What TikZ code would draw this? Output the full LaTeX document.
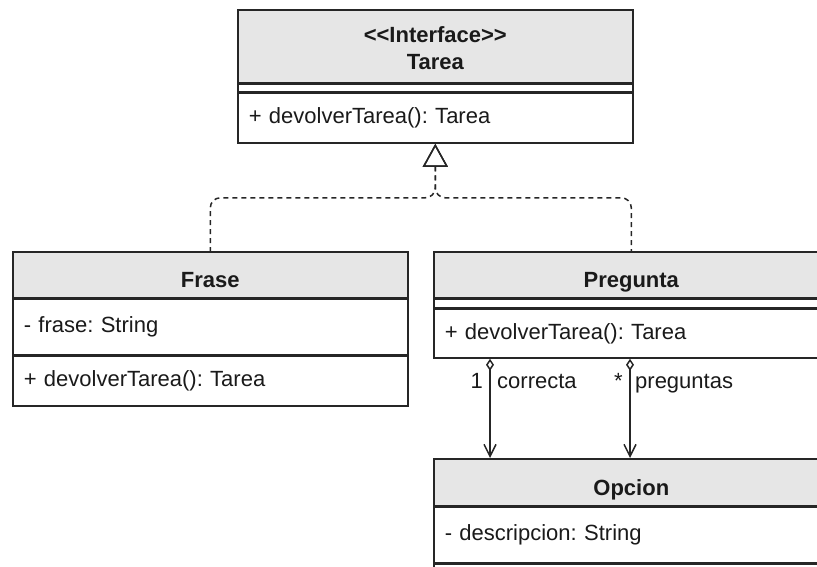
\documentclass[tikz,border=0pt]{standalone}
\usepackage{fontspec}
\newfontfamily\umlfont{Liberation Sans}
\newcommand{\umltype}{\umlfont\fontsize{22}{27}\selectfont\frenchspacing}
\usetikzlibrary{arrows.meta}
\definecolor{umlline}{HTML}{262626}
\definecolor{umlhead}{HTML}{E6E6E6}
\definecolor{umltext}{HTML}{1A1A1A}
\begin{document}
\begin{tikzpicture}[x=1pt,y=-1pt,
  headbox/.style={draw=umlline, line width=1.6pt, fill=umlhead, anchor=north west,
    inner xsep=11pt, inner ysep=0pt, text width=373pt, align=center,
    font=\umltype\bfseries, text=umltext, minimum height=#1,
    text height=26pt, text depth=0pt},
  partbox/.style={draw=umlline, line width=1.6pt, fill=white, anchor=north west,
    inner xsep=11pt, inner ysep=0pt, text width=373pt, align=left,
    font=\umltype, text=umltext, minimum height=#1},
  sepbox/.style={draw=umlline, line width=1.6pt, fill=white, anchor=north west,
    inner sep=0pt, minimum width=395pt, minimum height=#1},
  lbl/.style={font=\umltype, text=umltext, inner sep=0pt},
  realize/.style={draw=umlline, line width=1.5pt, dash pattern=on 5pt off 4pt,
    rounded corners=10pt, {Triangle[open, length=23pt, width=25pt, line width=1.5pt]}-},
  assoc/.style={draw=umlline, line width=1.5pt,
    {Diamond[open, length=12pt, width=8pt]}-{Straight Barb[length=12pt, width=12pt]}}]
\useasboundingbox (0,0) rectangle (817,567);
\clip (0,0) rectangle (817,567);

% interface Tarea
\node[headbox=73pt, text height=20pt, text depth=27pt] (tareaH) at (237,9) {<<Interface>>\\Tarea};
\node[sepbox=7pt] (tareaS) at (tareaH.south west) {};
\node[partbox=50pt] (tareaM) at (tareaS.south west) {+ devolverTarea(): Tarea};

% class Frase
\node[headbox=46pt] (fraseH) at (12,251) {Frase};
\node[partbox=55pt] (fraseA) at (fraseH.south west) {- frase: String};
\node[partbox=50pt] (fraseM) at (fraseA.south west) {+ devolverTarea(): Tarea};

% class Pregunta
\node[headbox=46pt] (preguntaH) at (433,251) {Pregunta};
\node[sepbox=8pt] (preguntaS) at (preguntaH.south west) {};
\node[partbox=49pt] (preguntaM) at (preguntaS.south west) {+ devolverTarea(): Tarea};

% class Opcion
\node[headbox=47pt] (opcionH) at (433,458) {Opcion};
\node[partbox=55pt] (opcionA) at (opcionH.south west) {- descripcion: String};
\node[partbox=50pt] (opcionM) at (opcionA.south west) {};

% realizations of Tarea
\coordinate (join) at ([yshift=-54pt]tareaM.south);
\draw[realize] (tareaM.south) -- (join) -| (fraseH.north);
\draw[realize] (tareaM.south) -- (join) -| (preguntaH.north);

% associations Pregunta -> Opcion
\draw[assoc] ([xshift=57pt]preguntaM.south west) -- ([xshift=57pt]opcionH.north west);
\draw[assoc] ([xshift=197pt]preguntaM.south west) -- ([xshift=197pt]opcionH.north west);

% association end labels
\node[lbl, anchor=base east] (multA) at (483,388) {1};
\node[lbl, anchor=base west] (roleA) at (497,388) {correcta};
\node[lbl, anchor=base east] (multB) at (623,388) {*};
\node[lbl, anchor=base west] (roleB) at (635,388) {preguntas};
\end{tikzpicture}
\end{document}
